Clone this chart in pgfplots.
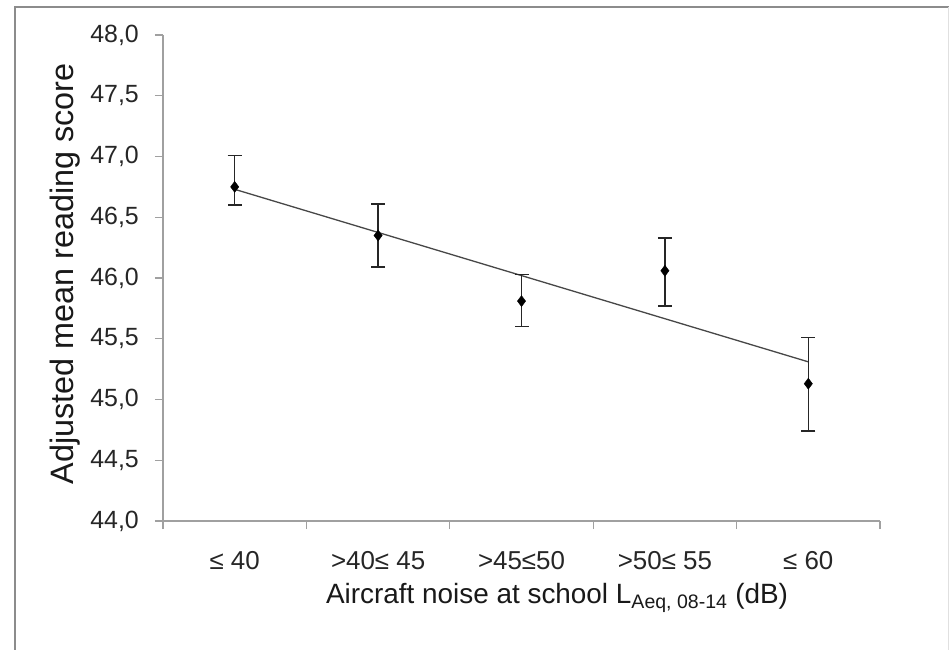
\documentclass[border=0pt]{standalone}
\usepackage{fontspec}
\setmainfont{Liberation Sans}
\usepackage{pgfplots}
\pgfplotsset{compat=1.18}

\definecolor{axisgray}{HTML}{A0A0A0}
\definecolor{framegray}{HTML}{8C8C8C}

\begin{document}
\begin{tikzpicture}
% canvas: 1px = 1bp, origin at the top left corner
\path[use as bounding box, fill=white] (0,0) rectangle (949bp,-650bp);
\draw[framegray, line width=2bp] (15bp,-650bp) -- (15bp,-7bp) -- (949bp,-7bp);
\draw[black!12, line width=1bp] (948bp,-7bp) -- (948bp,-650bp);

\begin{axis}[
    at={(163bp,-521bp)}, anchor=south west,
    scale only axis,
    width=717bp, height=486bp,
    xmin=0.5, xmax=5.5,
    ymin=44, ymax=48,
    axis x line*=bottom,
    axis y line*=left,
    axis line style={draw=axisgray, line width=1.3bp},
    tick style={draw=axisgray, line width=1.3bp},
    tick align=outside,
    major tick length=8bp,
    xtick={0.5,1.5,...,5.5},
    x tick label as interval,
    xticklabels={{≤ 40},{>40≤ 45},{>45≤50},{>50≤ 55},{≤ 60}},
    ytick={44,44.5,...,48},
    /pgf/number format/.cd, use comma, fixed, fixed zerofill, precision=1,
    assume math mode=true,
    /pgfplots/.cd,
    xticklabel style={font=\fontsize{26}{26}\selectfont, text=black!85,
        anchor=north, inner sep=0pt, yshift=-22bp},
    yticklabel style={font=\fontsize{25}{25}\selectfont, text=black!85,
        anchor=east, inner sep=0pt, xshift=-16bp},
    clip=false,
]

% linear trend through the five means
\addplot[no marks, color=black!72, line width=1.3bp]
coordinates {(1,46.73) (5,45.31)};

% adjusted means with 95% confidence intervals
\addplot[
    only marks,
    mark=diamond*, mark size=5.5bp,
    color=black,
    error bars/.cd,
        y dir=both, y explicit,
        error bar style={line width=1.4bp, color=black!85},
        error mark options={rotate=90, mark size=7bp, line width=1.4bp, color=black!85},
]
coordinates {
    (1,46.75) += (0,0.26) -= (0,0.15)
    (2,46.35) += (0,0.26) -= (0,0.26)
    (3,45.81) += (0,0.22) -= (0,0.21)
    (4,46.06) += (0,0.27) -= (0,0.29)
    (5,45.13) += (0,0.38) -= (0,0.39)
};
\end{axis}

% axis titles, placed on the canvas
\node[anchor=base, inner sep=0pt, text=black!90, font=\fontsize{28}{28}\selectfont]
    at (557bp,-603bp) {Aircraft noise at school L\textsubscript{Aeq, 08-14} (dB)};
\node[anchor=base, rotate=90, inner sep=0pt, text=black!90, font=\fontsize{32.5}{32.5}\selectfont]
    at (73bp,-274bp) {Adjusted mean reading score};
\end{tikzpicture}
\end{document}
